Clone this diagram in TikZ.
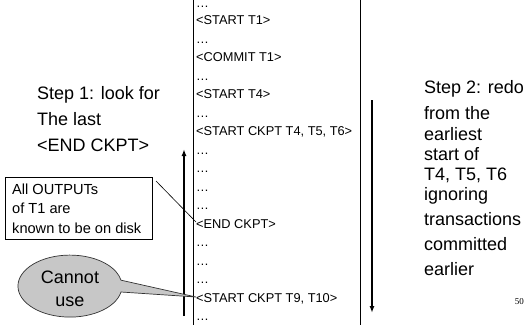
\documentclass[tikz,border=0pt]{standalone}
\usepackage{fontspec}
\setmainfont{Liberation Sans}
\newfontfamily\serifnum{Liberation Serif}
\usetikzlibrary{arrows.meta}
\begin{document}
\begin{tikzpicture}[x=1pt,y=-1pt,
  logline/.style={anchor=base west,inner sep=0pt,font=\fontsize{12.8}{14}\selectfont},
  bigtext/.style={anchor=base west,inner sep=0pt,font=\fontsize{18}{20}\selectfont},
  boxtext/.style={anchor=base west,inner sep=0pt,font=\fontsize{14.6}{16}\selectfont},
  thinline/.style={draw=black,line width=0.7pt},
  bigarrow/.style={draw=black,line width=1.4pt,-{Latex[length=7pt,width=5pt]}}]
\useasboundingbox (0,0) rectangle (528,325);
% log column borders
\coordinate (lt) at (193,0); \coordinate (lb) at (193,325);
\coordinate (rt) at (360,0); \coordinate (rb) at (360,325);
\draw[thinline] (lt) -- (lb);
\draw[thinline] (rt) -- (rb);
% log lines
\node[logline] (r1) at (196,7) {\dots};
\node[logline] (r2) at (196,24.5) {<START T1>};
\node[logline] (r3) at (196,43) {\dots};
\node[logline] (r4) at (196,61.5) {<COMMIT T1>};
\node[logline] (r5) at (196,80) {\dots};
\node[logline] (r6) at (196,98.5) {<START T4>};
\node[logline] (r7) at (196,117) {\dots};
\node[logline] (r8) at (196,135.5) {<START CKPT T4, T5, T6>};
\node[logline] (r9) at (196,154) {\dots};
\node[logline] (r10) at (196,172.5) {\dots};
\node[logline] (r11) at (196,191) {\dots};
\node[logline] (r12) at (196,209.5) {\dots};
\node[logline] (r13) at (196,228) {<END CKPT>};
\node[logline] (r14) at (196,246.5) {\dots};
\node[logline] (r15) at (196,265) {\dots};
\node[logline] (r16) at (196,283.5) {\dots};
\node[logline] (r17) at (196,302) {<START CKPT T9, T10>};
\node[logline] (r18) at (196,320.5) {\dots};
% step 1
\node[bigtext] (s1a) at (37,99) {Step 1: look for};
\node[bigtext] (s1b) at (37,125) {The last};
\node[bigtext] (s1c) at (37,151) {<END CKPT>};
% up arrow
\coordinate (ua0) at (184,316);
\coordinate (ua1) at (184,149);
\draw[bigarrow] (ua0) -- (ua1);
% down arrow
\coordinate (da0) at (372,100);
\coordinate (da1) at (372,313);
\draw[bigarrow] (da0) -- (da1);
% step 2
\node[bigtext] (s2a) at (424,93) {Step 2: redo};
\node[bigtext] (s2b) at (424,119) {from the};
\node[bigtext] (s2c) at (424,140) {earliest};
\node[bigtext] (s2d) at (424,160) {start of};
\node[bigtext] (s2e) at (424,180) {T4, T5, T6};
\node[bigtext] (s2f) at (424,200) {ignoring};
\node[bigtext] (s2g) at (424,225) {transactions};
\node[bigtext] (s2h) at (424,250) {committed};
\node[bigtext] (s2i) at (424,275) {earlier};
\node[anchor=base east,inner sep=0pt,font=\serifnum\fontsize{9}{10}\selectfont] (pg) at (524,304) {50};
% note box
\node[draw=black,line width=0.6pt,minimum width=147pt,minimum height=62pt,inner sep=0pt] (note) at (78.5,208) {};
\node[boxtext] (n1) at (12,194) {All OUTPUTs};
\node[boxtext] (n2) at (12,213.5) {of T1 are};
\node[boxtext] (n3) at (12,233) {known to be on disk};
\coordinate (nt) at (156,181);
\coordinate (ne) at (196,222);
\draw[line width=0.6pt] (nt) -- (ne);
% cannot use callout
\coordinate (ct) at (196,297);
\draw[draw=black!80,line width=0.7pt,fill=black!22]
  (ct) -- (121,292) arc[start angle=11,end angle=349,x radius=52,y radius=31]
  -- cycle;
\node[anchor=base,inner sep=0pt,font=\fontsize{18}{20}\selectfont] (c1) at (70,283) {Cannot};
\node[anchor=base,inner sep=0pt,font=\fontsize{18}{20}\selectfont] (c2) at (70,306) {use};
\end{tikzpicture}
\end{document}
